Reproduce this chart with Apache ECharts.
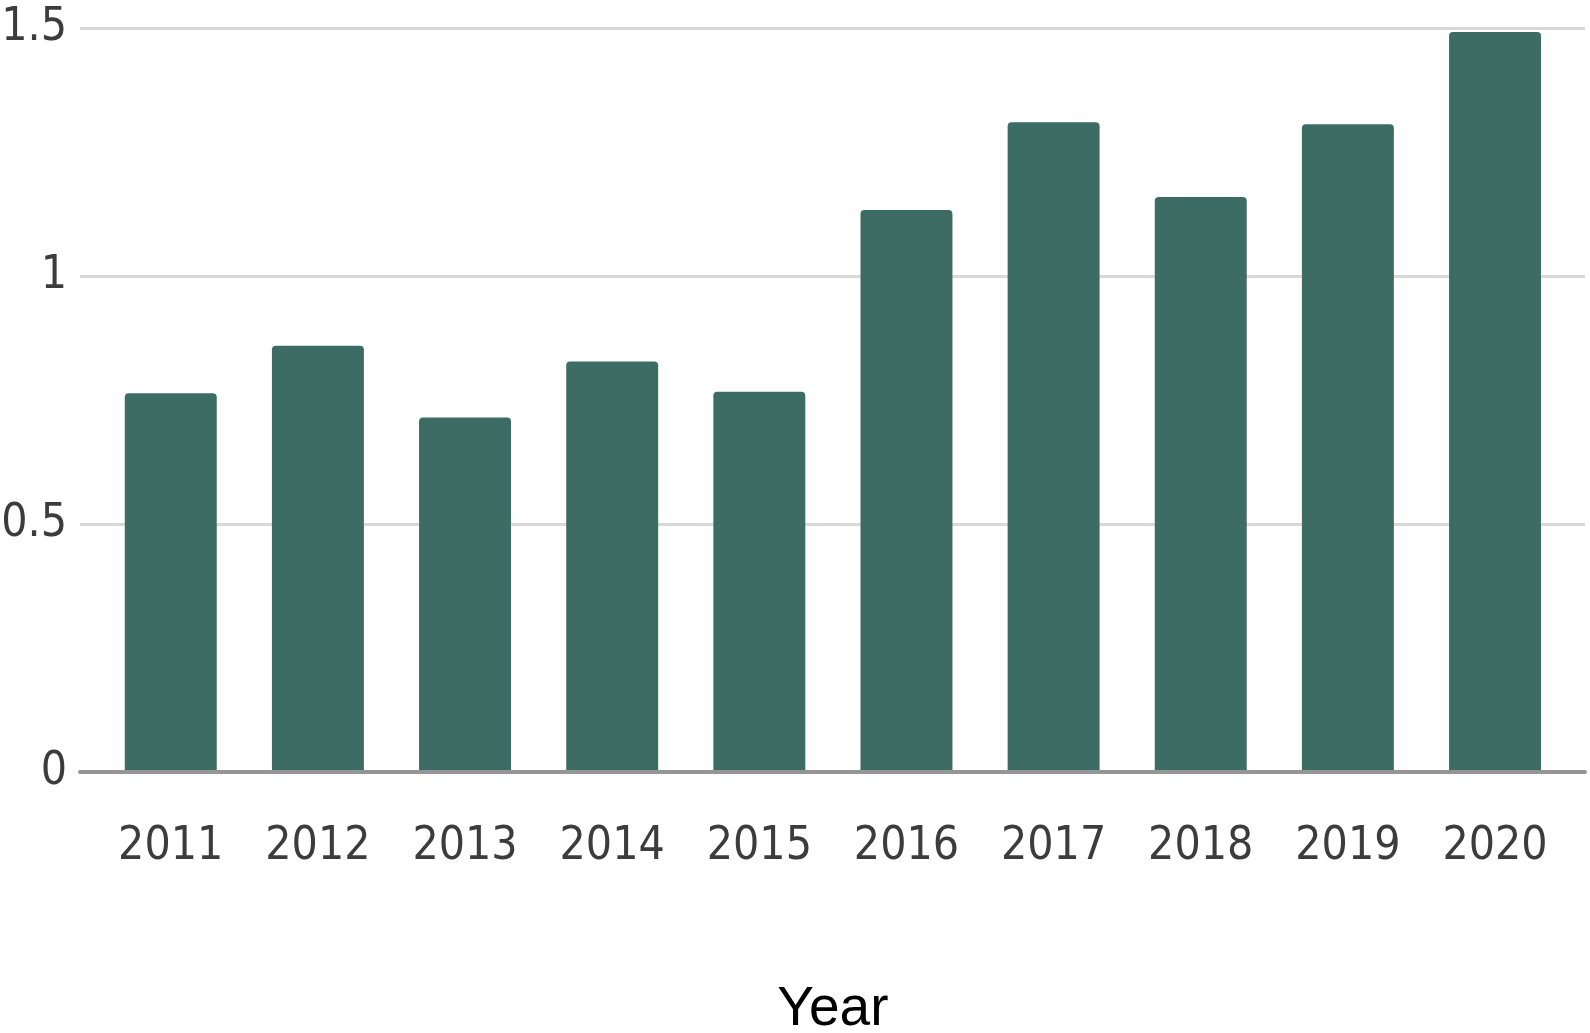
<!DOCTYPE html>
<html>
<head>
<meta charset="utf-8">
<script src="https://cdn.jsdelivr.net/npm/echarts@6/dist/echarts.min.js"></script>
<style>
html,body{margin:0;padding:0;background:#fff;}
#chart{width:1590px;height:1033px;}
</style>
</head>
<body>
<div id="chart"></div>
<script>
const years = ['2011','2012','2013','2014','2015','2016','2017','2018','2019','2020'];
const values = [0.764, 0.860, 0.715, 0.828, 0.767, 1.134, 1.311, 1.160, 1.307, 1.493];
const yTicks = [0, 0.5, 1, 1.5];
const axisTitle = 'Year';

const narrow = "'Liberation Sans Narrow', 'DejaVu Sans Condensed', 'Liberation Sans', sans-serif";
const chart = echarts.init(document.getElementById('chart'));
const gTop = 28.5, gBottom = 261;
chart.setOption({
  backgroundColor: '#ffffff',
  animation: false,
  grid: [
    {left: 80, right: 5, top: gTop, bottom: gBottom, containLabel: false, outerBoundsMode: 'none'},
    {left: 97.2, right: 21.4, top: gTop, bottom: gBottom, containLabel: false, outerBoundsMode: 'none'}
  ],
  xAxis: [
    {
      gridIndex: 0, type: 'value', min: 0, max: 1, z: 5,
      axisLine: {show: true, lineStyle: {color: '#959595', width: 4}},
      axisTick: {show: false}, axisLabel: {show: false}, splitLine: {show: false}
    },
    {
      gridIndex: 1, type: 'category', data: years,
      axisLine: {show: false}, axisTick: {show: false},
      axisLabel: {fontFamily: narrow, fontSize: 46, color: '#3c3c3c', margin: 52, lineHeight: 46, interval: 0, hideOverlap: false},
      name: axisTitle, nameLocation: 'middle', nameGap: 210,
      nameTextStyle: {fontFamily: "'Liberation Sans', Arial, sans-serif", fontSize: 55, color: '#000', lineHeight: 55}
    }
  ],
  yAxis: [
    {
      gridIndex: 0, type: 'value', min: yTicks[0], max: yTicks[yTicks.length-1], interval: yTicks[1]-yTicks[0],
      axisLine: {show: false}, axisTick: {show: false},
      axisLabel: {fontFamily: narrow, fontSize: 46, color: '#3c3c3c', margin: 13,
        formatter: v => String(v)},
      splitLine: {show: true, lineStyle: {color: '#d9d9d9', width: 3}}
    },
    {
      gridIndex: 1, type: 'value', min: yTicks[0], max: yTicks[yTicks.length-1],
      show: false, splitLine: {show: false}
    }
  ],
  series: [{
    type: 'bar', xAxisIndex: 1, yAxisIndex: 1, data: values,
    barCategoryGap: '37.5%',
    itemStyle: {color: '#3d6c65', borderRadius: [4,4,0,0]}
  }]
});
</script>
</body>
</html>
